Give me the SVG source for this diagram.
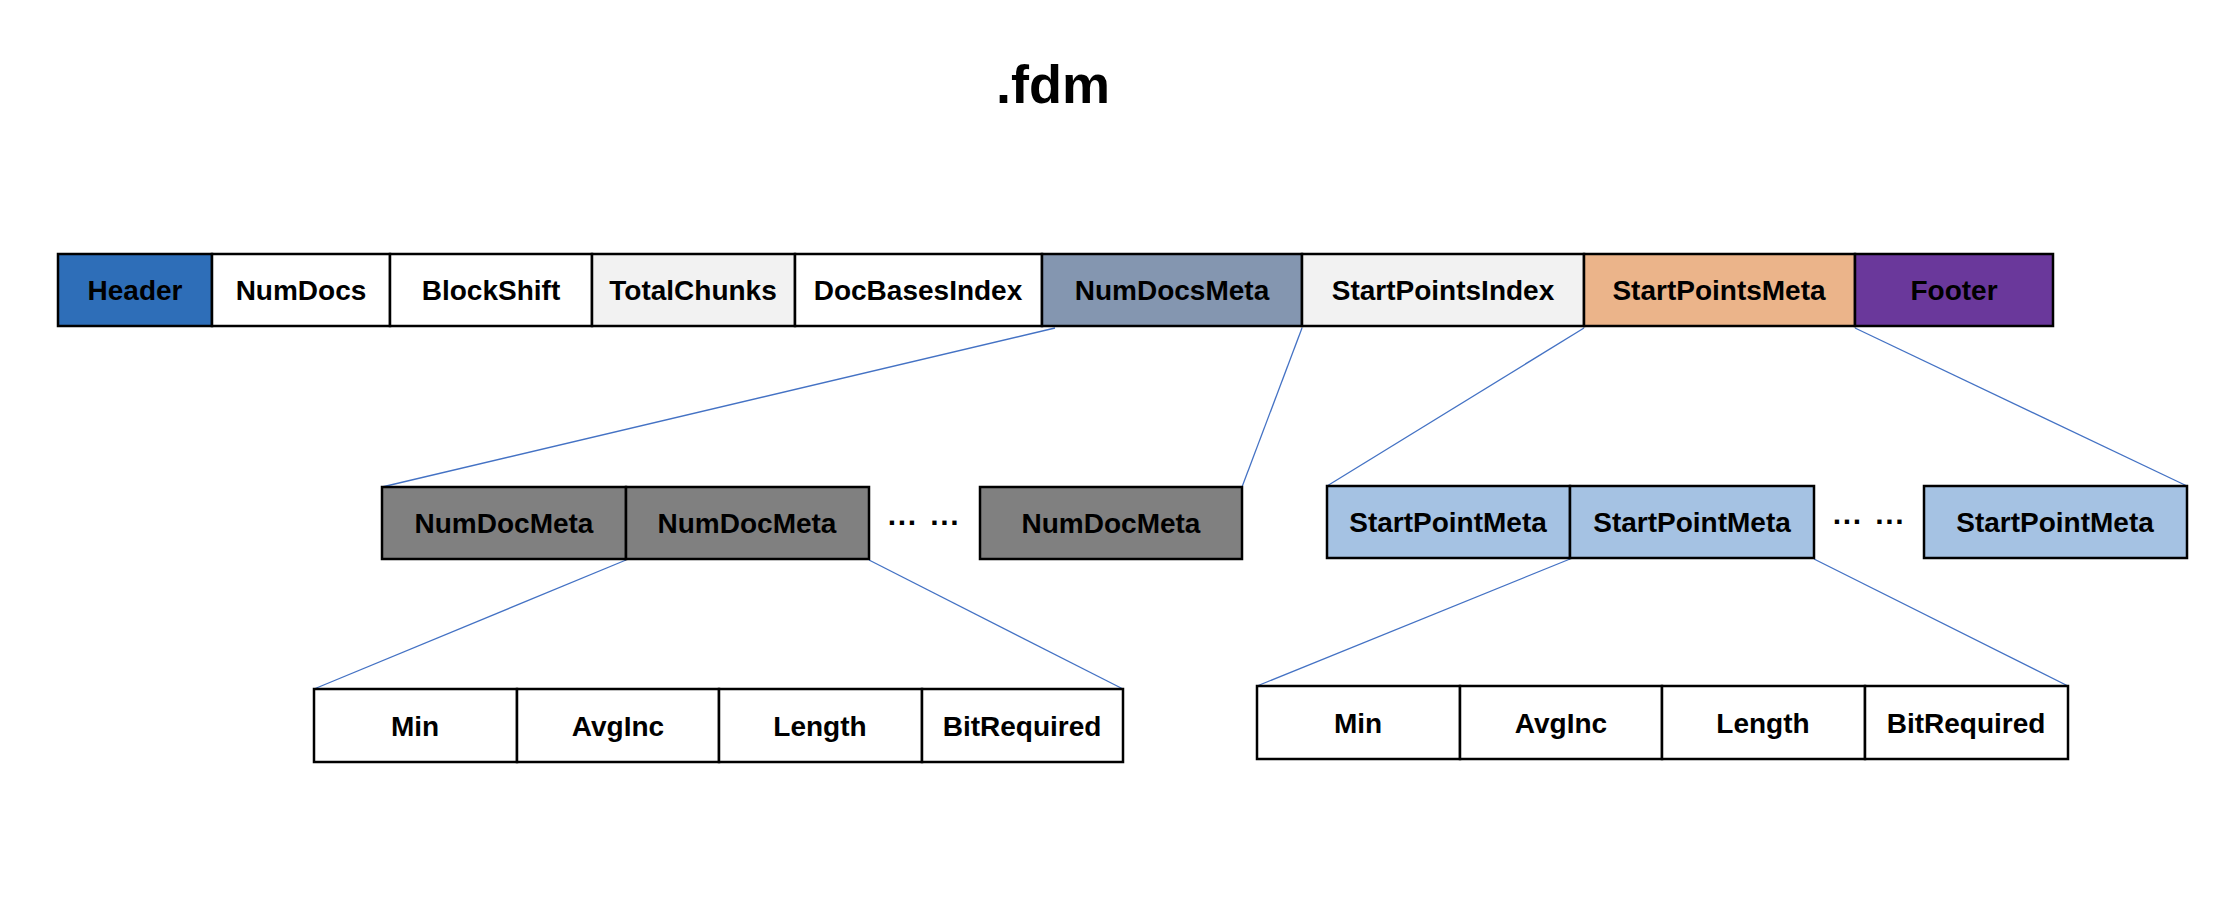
<svg xmlns="http://www.w3.org/2000/svg" width="2220" height="916" viewBox="0 0 2220 916">
<style>
.c{stroke:#000;stroke-width:2.5}
.t{font-family:"Liberation Sans",Arial,sans-serif;font-weight:bold;font-size:28px;fill:#000;text-anchor:middle;dominant-baseline:central}
.d{font-family:"Liberation Sans",Arial,sans-serif;font-weight:bold;font-size:30px;fill:#000;text-anchor:middle;dominant-baseline:central;word-spacing:4px}
.title{font-family:"Liberation Sans",Arial,sans-serif;font-weight:bold;font-size:54px;fill:#000;text-anchor:middle}
.ln{stroke:#4472C4;stroke-width:1.3;fill:none}
.w{fill:#FFFFFF}.lg{fill:#F2F2F2}.hb{fill:#2E6EB8}.sg{fill:#8496B0}.or{fill:#EBB48A}.pu{fill:#6A389B}.g{fill:#808080}.lb{fill:#A5C2E3}
</style>
<rect width="2220" height="916" fill="#fff"/>
<text class="title" x="1053" y="103">.fdm</text>
<g id="connectors">
<line class="ln" x1="1055" y1="328" x2="382" y2="487"/>
<line class="ln" x1="1302" y1="328" x2="1242" y2="487"/>
<line class="ln" x1="1584" y1="328" x2="1327" y2="486"/>
<line class="ln" x1="1855" y1="328" x2="2187" y2="486"/>
<line class="ln" x1="626" y1="560" x2="314" y2="689"/>
<line class="ln" x1="869" y1="560" x2="1123" y2="689"/>
<line class="ln" x1="1570" y1="559" x2="1257" y2="686"/>
<line class="ln" x1="1814" y1="559" x2="2068" y2="686"/>
</g>
<g id="header"><rect class="c hb" x="58" y="254" width="154" height="72"/><text class="t" x="135" y="290">Header</text></g>
<g id="numdocs"><rect class="c w" x="212" y="254" width="178" height="72"/><text class="t" x="301" y="290">NumDocs</text></g>
<g id="blockshift"><rect class="c w" x="390" y="254" width="202" height="72"/><text class="t" x="491" y="290">BlockShift</text></g>
<g id="totalchunks"><rect class="c lg" x="592" y="254" width="203" height="72"/><text class="t" x="693" y="290">TotalChunks</text></g>
<g id="docbasesindex"><rect class="c w" x="795" y="254" width="247" height="72"/><text class="t" x="918" y="290">DocBasesIndex</text></g>
<g id="numdocsmeta"><rect class="c sg" x="1042" y="254" width="260" height="72"/><text class="t" x="1172" y="290">NumDocsMeta</text></g>
<g id="startpointsindex"><rect class="c lg" x="1302" y="254" width="282" height="72"/><text class="t" x="1443" y="290">StartPointsIndex</text></g>
<g id="startpointsmeta"><rect class="c or" x="1584" y="254" width="271" height="72"/><text class="t" x="1719" y="290">StartPointsMeta</text></g>
<g id="footer"><rect class="c pu" x="1855" y="254" width="198" height="72"/><text class="t" x="1954" y="290">Footer</text></g>

<g id="numdocmeta1"><rect class="c g" x="382" y="487" width="244" height="72"/><text class="t" x="504" y="523">NumDocMeta</text></g>
<g id="numdocmeta2"><rect class="c g" x="626" y="487" width="243" height="72"/><text class="t" x="747" y="523">NumDocMeta</text></g>
<g id="dots1"><text class="d" x="924" y="522">··· ···</text></g>
<g id="numdocmeta3"><rect class="c g" x="980" y="487" width="262" height="72"/><text class="t" x="1111" y="523">NumDocMeta</text></g>

<g id="startpointmeta1"><rect class="c lb" x="1327" y="486" width="243" height="72"/><text class="t" x="1448" y="522">StartPointMeta</text></g>
<g id="startpointmeta2"><rect class="c lb" x="1570" y="486" width="244" height="72"/><text class="t" x="1692" y="522">StartPointMeta</text></g>
<g id="dots2"><text class="d" x="1869" y="521">··· ···</text></g>
<g id="startpointmeta3"><rect class="c lb" x="1924" y="486" width="263" height="72"/><text class="t" x="2055" y="522">StartPointMeta</text></g>

<g id="ndm-min"><rect class="c w" x="314" y="689" width="203" height="73"/><text class="t" x="415" y="726">Min</text></g>
<g id="ndm-avginc"><rect class="c w" x="517" y="689" width="202" height="73"/><text class="t" x="618" y="726">AvgInc</text></g>
<g id="ndm-length"><rect class="c w" x="719" y="689" width="203" height="73"/><text class="t" x="820" y="726">Length</text></g>
<g id="ndm-bitrequired"><rect class="c w" x="922" y="689" width="201" height="73"/><text class="t" x="1022" y="726">BitRequired</text></g>

<g id="spm-min"><rect class="c w" x="1257" y="686" width="203" height="73"/><text class="t" x="1358" y="723">Min</text></g>
<g id="spm-avginc"><rect class="c w" x="1460" y="686" width="202" height="73"/><text class="t" x="1561" y="723">AvgInc</text></g>
<g id="spm-length"><rect class="c w" x="1662" y="686" width="203" height="73"/><text class="t" x="1763" y="723">Length</text></g>
<g id="spm-bitrequired"><rect class="c w" x="1865" y="686" width="203" height="73"/><text class="t" x="1966" y="723">BitRequired</text></g>
</svg>
